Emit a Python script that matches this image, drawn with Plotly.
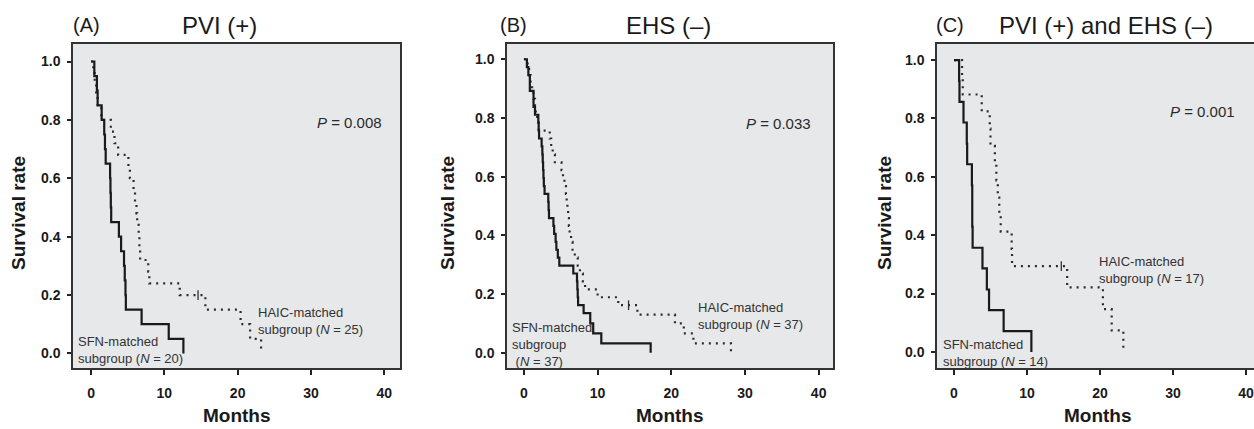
import plotly.graph_objects as go

# ---------------- data ----------------
# Panel A: PVI (+)
a_sfn_t = [0, 0.45, 0.8, 0.9, 1.45, 1.8, 1.9, 2.0, 2.6, 2.65, 2.7, 2.75, 3.8, 4.1, 4.5, 4.6, 4.7, 4.75, 6.9, 10.6, 12.6]
a_sfn_s = [1.0, 0.95, 0.90, 0.85, 0.80, 0.75, 0.70, 0.65, 0.60, 0.55, 0.50, 0.45, 0.40, 0.35, 0.30, 0.25, 0.20, 0.15, 0.10, 0.05, 0.0]
a_haic_t = [0, 0.3, 0.5, 0.7, 0.9, 1.4, 2.7, 3.2, 3.7, 5.1, 5.3, 5.8, 6.0, 6.2, 6.3, 6.5, 6.6, 6.7, 7.8, 7.95, 12.1, 15.6, 20.4, 21.7, 23.2]
a_haic_s = [1.0, 0.96, 0.92, 0.88, 0.84, 0.80, 0.76, 0.72, 0.68, 0.64, 0.60, 0.56, 0.52, 0.48, 0.44, 0.40, 0.36, 0.32, 0.28, 0.24, 0.20, 0.15, 0.10, 0.05, 0.0]
a_cens_t = [14.6]
a_cens_s = [0.20]

# Panel B: EHS (-)
b_sfn_t = [0, 0.4, 0.6, 0.8, 1.3, 1.5, 1.95, 2.0, 2.05, 2.4, 2.5, 2.55, 2.6, 2.65, 2.7, 2.8, 3.3, 3.35, 3.4,
           4.0, 4.1, 4.3, 4.4, 4.6, 4.8, 6.7, 7.2, 7.25, 7.3, 7.35, 8.1, 9.0, 9.4, 10.5, 17.2]
b_sfn_s = [1.0, 0.973, 0.946, 0.892, 0.838, 0.811, 0.784, 0.757, 0.730, 0.703, 0.676, 0.649, 0.622, 0.595, 0.568,
           0.541, 0.514, 0.486, 0.459, 0.432, 0.405, 0.378, 0.351, 0.324, 0.297, 0.270, 0.243, 0.216, 0.189, 0.162,
           0.135, 0.100, 0.066, 0.032, 0.0]
b_haic_t = [0, 0.5, 0.7, 0.9, 1.1, 1.3, 1.5, 1.6, 1.8, 2.0, 3.5, 3.7, 3.9, 4.2, 5.1, 5.3, 5.5, 5.7, 5.8, 5.9,
            6.0, 6.1, 6.2, 6.4, 6.6, 6.9, 7.3, 7.6, 8.0, 8.3, 10.0, 12.8, 15.4, 20.5, 21.7, 23.0, 28.1]
b_haic_s = [1.0, 0.973, 0.946, 0.919, 0.892, 0.865, 0.838, 0.811, 0.784, 0.757, 0.730, 0.703, 0.676, 0.649,
            0.622, 0.595, 0.568, 0.541, 0.514, 0.486, 0.459, 0.432, 0.405, 0.378, 0.351, 0.324, 0.297, 0.270,
            0.243, 0.216, 0.189, 0.162, 0.130, 0.100, 0.066, 0.032, 0.0]
b_cens_t = [14.2]
b_cens_s = [0.162]

# Panel C: PVI (+) and EHS (-)
c_sfn_t = [0, 0.7, 0.75, 1.3, 1.75, 1.8, 2.45, 2.5, 2.55, 3.9, 4.5, 4.8, 6.8, 10.6]
c_sfn_s = [1.0, 0.929, 0.857, 0.786, 0.714, 0.643, 0.571, 0.429, 0.357, 0.286, 0.214, 0.143, 0.071, 0.0]
c_haic_t = [0, 1.1, 1.2, 3.8, 4.9, 5.0, 5.6, 5.8, 6.0, 6.2, 6.4, 7.9, 7.95, 15.5, 20.4, 21.6, 23.2]
c_haic_s = [1.0, 0.941, 0.882, 0.824, 0.765, 0.706, 0.647, 0.588, 0.529, 0.471, 0.412, 0.353, 0.294, 0.221,
            0.147, 0.074, 0.0]
c_cens_t = [14.7]
c_cens_s = [0.294]

panel_letters = ["(A)", "(B)", "(C)"]
panel_titles = ["PVI (+)", "EHS (\u2013)", "PVI (+) and EHS (\u2013)"]
p_values = ["0.008", "0.033", "0.001"]
haic_n = [25, 37, 17]
sfn_n = [20, 37, 14]
x_ticks = [0, 10, 20, 30, 40]
y_ticks = [0.0, 0.2, 0.4, 0.6, 0.8, 1.0]

# ---------------- layout geometry ----------------
W, H = 1254, 429
FONT = "Liberation Sans, Arial, sans-serif"
BG = "#e7e8ea"

x_dom = [[73 / W, 400 / W], [507 / W, 833 / W], [937 / W, 1.0]]
y_dom = [(H - 368) / H, (H - 44) / H]
x_rng = [[-2.46, 42.15], [-2.30, 41.95], [-2.33, 41.1]]
y_rng = [[-0.050, 1.060], [-0.052, 1.052], [-0.055, 1.055]]

fig = go.Figure()

sets = [
    (a_sfn_t, a_sfn_s, a_haic_t, a_haic_s, a_cens_t, a_cens_s),
    (b_sfn_t, b_sfn_s, b_haic_t, b_haic_s, b_cens_t, b_cens_s),
    (c_sfn_t, c_sfn_s, c_haic_t, c_haic_s, c_cens_t, c_cens_s),
]

for i, (st, ss, ht, hs, ct, cs) in enumerate(sets):
    xa = "x" if i == 0 else f"x{i+1}"
    ya = "y" if i == 0 else f"y{i+1}"
    fig.add_trace(go.Scatter(x=ht, y=hs, mode="lines", line=dict(color="#2a2a2a", width=2.2, dash="2px,5px", shape="hv"),
                             xaxis=xa, yaxis=ya, showlegend=False, hoverinfo="skip"))
    fig.add_trace(go.Scatter(x=st, y=ss, mode="lines", line=dict(color="#1a1a1a", width=2.2, shape="hv"),
                             xaxis=xa, yaxis=ya, showlegend=False, hoverinfo="skip"))
    fig.add_trace(go.Scatter(x=ct, y=cs, mode="markers",
                             marker=dict(symbol="line-ns-open", size=7, color="#333333",
                                         line=dict(color="#333333", width=1.3)),
                             xaxis=xa, yaxis=ya, showlegend=False, hoverinfo="skip"))

layout = dict(
    width=W, height=H, margin=dict(l=0, r=0, t=0, b=0),
    paper_bgcolor="white", plot_bgcolor=BG,
    font=dict(family=FONT, color="#1a1a1a"),
    showlegend=False,
)

for i in range(3):
    xk = "xaxis" if i == 0 else f"xaxis{i+1}"
    yk = "yaxis" if i == 0 else f"yaxis{i+1}"
    ya_ref = "y" if i == 0 else f"y{i+1}"
    xa_ref = "x" if i == 0 else f"x{i+1}"
    layout[xk] = dict(
        domain=x_dom[i], range=x_rng[i], anchor=ya_ref,
        tickmode="array", tickvals=x_ticks, ticktext=[f"<b>{v}</b>" for v in x_ticks],
        ticks="outside", ticklen=5, tickwidth=1.5, tickcolor="#222",
        showline=True, linecolor="#333", linewidth=1.5, mirror=True,
        showgrid=False, zeroline=False, ticklabelstandoff=6,
        tickfont=dict(family=FONT, size=14, color="#1a1a1a"),
    )
    layout[yk] = dict(
        domain=y_dom, range=y_rng[i], anchor=xa_ref,
        tickmode="array", tickvals=y_ticks, ticktext=[f"<b>{v:.1f}</b>" for v in y_ticks],
        ticks="outside", ticklen=4, tickwidth=1.5, tickcolor="#222",
        showline=True, linecolor="#333", linewidth=1.5, mirror=(i < 2),
        showgrid=False, zeroline=False, ticklabelstandoff=4,
        tickfont=dict(family=FONT, size=14, color="#1a1a1a"),
    )

fig.update_layout(**layout)

ann = []
letter_x = [86.5, 513.5, 950]
title_x = [219, 669, 1106]
ytitle_x = [19, 448, 885]
months_x = [237, 670, 1098]
p_pos = [(35.2, 0.79), (34.6, 0.78), (34.0, 0.825)]
haic_pos = [(22.6, 0.111), (23.5, 0.124), (19.7, 0.281)]
sfn_pos = [(-1.9, 0.010), (-1.8, 0.027), (-1.6, -0.002)]

for i in range(3):
    xa_ref = "x" if i == 0 else f"x{i+1}"
    ya_ref = "y" if i == 0 else f"y{i+1}"
    ann.append(dict(x=letter_x[i] / W, y=(H - 25) / H, xref="paper", yref="paper", text=panel_letters[i],
                    showarrow=False, xanchor="center", yanchor="middle",
                    font=dict(family=FONT, size=20, color="#1a1a1a")))
    ann.append(dict(x=title_x[i] / W, y=(H - 25) / H, xref="paper", yref="paper", text=panel_titles[i],
                    showarrow=False, xanchor="center", yanchor="middle",
                    font=dict(family=FONT, size=24, color="#1a1a1a")))
    ann.append(dict(x=ytitle_x[i] / W, y=(H - 213) / H, xref="paper", yref="paper", text="<b>Survival rate</b>",
                    textangle=-90, showarrow=False, xanchor="center", yanchor="middle",
                    font=dict(family=FONT, size=19, color="#1a1a1a")))
    ann.append(dict(x=months_x[i] / W, y=(H - 415) / H, xref="paper", yref="paper", text="<b>Months</b>",
                    showarrow=False, xanchor="center", yanchor="middle",
                    font=dict(family=FONT, size=19, color="#1a1a1a")))
    ann.append(dict(x=p_pos[i][0], y=p_pos[i][1], xref=xa_ref, yref=ya_ref,
                    text=f"<i>P</i> = {p_values[i]}", showarrow=False, xanchor="center", yanchor="middle",
                    font=dict(family=FONT, size=15, color="#2a2a2a")))
    ann.append(dict(x=haic_pos[i][0], y=haic_pos[i][1], xref=xa_ref, yref=ya_ref,
                    text=f"HAIC-matched<br>subgroup (<i>N</i> = {haic_n[i]})", showarrow=False,
                    xanchor="left", yanchor="middle", align="left", borderpad=0,
                    font=dict(family=FONT, size=13, color="#333333")))
    if i == 1:
        sfn_text = f"SFN-matched<br>subgroup<br> (<i>N</i> = {sfn_n[i]})"
    else:
        sfn_text = f"SFN-matched<br>subgroup (<i>N</i> = {sfn_n[i]})"
    ann.append(dict(x=sfn_pos[i][0], y=sfn_pos[i][1], xref=xa_ref, yref=ya_ref,
                    text=sfn_text, showarrow=False, xanchor="left", yanchor="middle", align="left", borderpad=0,
                    font=dict(family=FONT, size=13, color="#333333")))

fig.update_layout(annotations=ann)
fig.write_html("out.html")
